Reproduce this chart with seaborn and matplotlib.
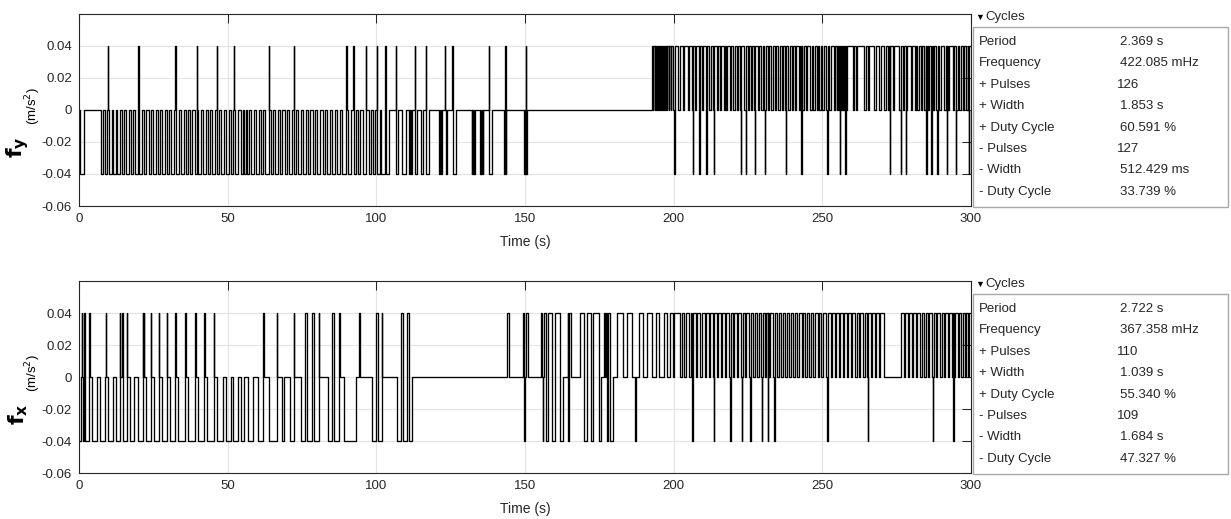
import numpy as np
import pandas as pd
import matplotlib
matplotlib.use("Agg")
import matplotlib.pyplot as plt
import seaborn as sns
from matplotlib.patches import Rectangle

sns.set_style("white")
plt.rcParams["font.family"] = ["Liberation Sans", "DejaVu Sans"]

# ----------------------------
#  Datos (tiempos en s)
# ----------------------------
T_END = 300.0
LEVEL = 0.04
SPIKE_W = 0.15

# f_y : pulsos a -0.04 (tramos), pulsos a +0.04 (tramos) y picos cortos
fy_low = [(0.4, 1.7), (7.3, 8.2), (8.9, 9.5), (10.0, 11.0), (11.6, 12.3), (12.9, 13.8),
          (14.5, 15.2), (15.9, 16.7), (17.4, 18.3), (19.0, 19.8), (20.3, 21.1), (21.8, 22.7),
          (23.4, 24.2), (24.9, 25.8), (26.5, 27.3), (28.0, 28.8), (29.5, 30.4), (31.1, 31.8),
          (32.6, 33.5), (34.3, 35.2), (35.9, 36.6), (37.4, 38.1), (38.9, 39.6), (40.1, 41.0),
          (41.8, 42.6), (43.3, 44.1), (44.8, 45.7), (46.5, 47.2), (47.9, 48.8), (49.5, 50.3),
          (51.1, 51.9), (52.6, 53.4), (54.4, 55.0), (55.6, 56.0), (56.5, 57.3), (58.0, 58.8),
          (59.5, 60.4), (61.2, 62.0), (62.7, 63.8), (64.5, 65.3), (66.0, 66.8), (67.6, 68.4),
          (69.2, 70.0), (70.6, 71.5), (72.4, 73.0), (73.8, 74.6), (75.4, 76.2), (77.0, 77.8),
          (78.7, 79.5), (80.2, 81.0), (81.9, 82.7), (83.5, 84.4), (85.2, 86.0), (86.8, 87.7),
          (88.5, 89.8), (90.6, 91.5), (92.4, 93.0), (93.8, 94.6), (95.5, 96.4), (97.4, 98.2),
          (99.0, 99.7), (100.3, 101.2), (101.5, 102.9), (103.3, 104.4), (106.7, 107.4),
          (108.8, 110.0), (111.1, 111.3), (111.5, 111.7), (111.8, 111.9), (113.1, 113.6),
          (114.9, 115.8), (116.8, 117.8), (121.2, 121.4), (121.6, 121.8), (121.9, 122.1),
          (123.3, 123.7), (125.8, 126.8), (132.1, 132.3), (132.5, 132.8), (132.9, 133.2),
          (134.9, 135.1), (135.3, 135.6), (135.8, 136.0), (138.0, 138.8), (143.1, 143.6),
          (149.7, 149.9), (150.0, 150.2), (150.4, 150.6)]
fy_high = [(192.6, 193.0), (193.2, 193.6), (193.8, 194.1), (194.3, 194.8), (195.0, 195.3),
           (195.5, 195.9), (196.1, 196.5), (196.7, 197.0), (197.3, 197.7), (197.9, 198.3),
           (198.5, 199.0), (199.2, 199.8), (200.5, 201.5), (202.0, 203.2), (203.6, 204.9),
           (205.3, 206.2), (206.6, 207.1), (207.5, 208.4), (208.8, 209.6), (210.0, 210.9),
           (211.2, 212.0), (212.4, 213.3), (213.7, 214.6), (215.0, 215.6), (215.9, 216.8),
           (217.1, 217.7), (218.0, 218.9), (219.3, 220.1), (220.5, 221.2), (221.6, 222.4),
           (222.8, 223.8), (224.2, 224.9), (225.3, 226.1), (226.5, 227.1), (227.5, 228.4),
           (228.8, 229.5), (229.9, 230.5), (230.9, 231.7), (232.1, 232.9), (233.3, 234.0),
           (234.4, 235.2), (235.6, 236.3), (236.7, 237.5), (237.9, 238.6), (239.0, 239.8),
           (240.2, 240.9), (241.3, 242.1), (242.5, 243.3), (243.7, 244.5), (245.0, 245.9),
           (246.4, 247.0), (247.4, 248.2), (248.6, 249.0), (249.4, 250.0), (250.5, 251.2),
           (251.7, 252.3), (252.8, 253.9), (254.4, 254.8), (255.1, 255.4), (255.7, 256.0),
           (256.3, 256.6), (256.9, 257.1), (257.4, 258.0),
           (258.4, 260.2), (260.6, 261.3), (261.8, 264.1), (264.6, 265.2), (265.7, 267.5),
           (268.0, 269.1), (269.6, 270.8), (271.3, 272.0), (272.4, 273.6), (274.1, 275.9),
           (276.4, 277.0), (277.5, 278.1), (278.6, 279.8), (280.3, 281.0), (281.4, 282.0),
           (282.5, 283.1), (283.6, 284.3), (284.8, 285.4), (285.9, 287.1), (287.6, 288.2),
           (288.7, 289.3), (289.8, 291.0), (291.5, 292.2), (292.7, 293.9), (294.4, 295.0),
           (295.5, 296.1), (296.6, 297.3), (297.8, 298.4), (298.9, 299.1), (299.4, 300.0)]
fy_up_spikes = [9.6, 19.9, 32.4, 39.7, 46.3, 52.0, 63.9, 72.2, 89.9, 92.2, 96.5, 100.1,
                103.0, 106.5, 112.9, 116.6, 123.1, 125.6, 137.8, 143.3, 150.3]
fy_down_spikes = [200.2, 206.4, 208.6, 211.0, 213.5, 222.6, 224.2, 227.3, 230.7, 237.7,
                  242.9, 251.6, 255.9, 257.7, 272.7, 276.3, 278.1, 285.0, 286.6, 288.6,
                  291.8, 294.8, 299.2]

# f_x
fx_low = [(0.0, 0.8), (1.2, 1.6), (2.0, 3.5), (4.4, 5.9), (7.1, 8.7), (9.9, 11.3),
          (12.3, 13.8), (14.7, 16.3), (17.3, 18.6), (20.0, 21.4), (22.4, 24.2), (25.2, 26.9),
          (27.8, 29.5), (30.6, 32.4), (33.3, 35.8), (36.8, 39.1), (40.1, 42.2), (43.0, 45.4),
          (46.3, 48.3), (49.4, 51.0), (51.9, 53.6), (54.6, 55.5), (57.0, 58.6), (60.3, 62.0),
          (64.0, 66.5), (68.2, 69.0), (71.0, 72.3), (74.7, 76.1), (76.8, 78.5), (79.1, 80.6),
          (83.9, 85.0), (85.8, 87.6), (89.1, 93.2), (98.4, 99.8), (100.7, 101.8),
          (106.9, 108.2), (109.1, 110.2), (111.1, 112.1), (149.6, 150.1), (155.9, 156.2),
          (157.0, 157.9), (159.2, 160.0), (161.8, 162.7), (169.9, 170.8), (172.3, 173.0),
          (174.9, 175.5), (177.5, 178.0), (178.7, 179.6)]
fx_high = [(76.1, 76.8), (78.5, 79.1), (85.0, 85.8), (99.8, 100.7), (108.2, 109.1),
           (110.2, 111.1), (143.8, 144.7), (149.2, 149.6), (150.2, 151.0), (155.5, 155.8),
           (156.3, 157.0), (157.9, 159.2), (160.0, 161.8), (164.4, 165.5), (168.5, 169.9),
           (170.8, 172.3), (173.0, 174.9), (176.6, 176.9), (177.1, 177.5), (178.0, 178.6),
           (181.1, 183.1), (184.4, 186.1), (188.5, 189.8), (190.9, 192.6), (193.9, 194.9),
           (196.8, 197.7), (198.6, 199.7), (200.2, 202.1), (202.8, 203.6), (204.3, 205.2),
           (205.7, 206.2), (206.5, 207.5), (208.0, 208.9), (209.5, 210.4), (210.9, 211.8),
           (212.3, 213.2), (213.6, 214.5), (215.0, 215.9), (216.4, 217.2), (217.6, 218.7),
           (219.2, 219.9), (220.3, 221.2), (221.6, 222.6), (223.2, 224.0), (224.4, 225.5),
           (226.0, 226.8), (227.2, 228.1), (228.6, 229.4), (229.9, 230.8), (231.2, 232.0),
           (232.5, 233.5), (234.0, 234.8), (235.3, 236.2), (236.7, 237.5), (238.0, 238.9),
           (239.4, 240.2), (240.7, 241.6), (242.1, 243.0), (243.5, 244.3), (244.8, 245.6),
           (246.1, 247.0), (247.5, 248.4), (248.9, 249.7), (250.2, 251.4), (252.0, 252.9),
           (253.4, 254.2), (254.7, 255.5), (256.0, 256.9), (257.4, 258.2), (258.7, 259.6),
           (260.1, 261.0), (261.5, 262.3), (262.8, 263.7), (264.2, 265.0), (265.5, 266.3),
           (266.8, 267.6), (268.1, 268.9), (269.4, 270.9), (276.5, 277.4), (277.9, 278.8),
           (279.3, 280.1), (280.6, 281.5), (282.0, 282.9), (283.4, 284.2), (284.7, 285.5),
           (286.0, 286.9), (287.4, 288.2), (288.7, 289.6), (290.1, 290.9), (291.4, 292.2),
           (292.7, 293.5), (293.9, 294.4), (294.7, 295.5), (296.0, 296.8), (297.2, 297.9),
           (298.3, 299.0), (299.4, 300.0)]
fx_up_spikes = [0.9, 1.7, 3.5, 9.0, 13.8, 14.6, 16.0, 21.4, 21.7, 24.2, 26.9, 29.5, 32.4,
                35.8, 39.1, 42.2, 45.4, 62.0, 66.5, 72.3, 80.6, 87.6, 94.3, 101.8]
fx_down_spikes = [164.6, 187.1, 206.3, 213.4, 219.0, 223.0, 225.7, 229.6, 231.6, 233.8,
                  251.7, 265.2, 287.2, 294.1]

# cuadro "Cycles" (etiquetas y valores)
cycle_labels = ["Period", "Frequency", "+ Pulses", "+ Width", "+ Duty Cycle",
                "- Pulses", "- Width", "- Duty Cycle"]
fy_cycles = ["2.369 s", "422.085 mHz", "126", "1.853 s", "60.591 %",
             "127", "512.429 ms", "33.739 %"]
fx_cycles = ["2.722 s", "367.358 mHz", "110", "1.039 s", "55.340 %",
             "109", "1.684 s", "47.327 %"]

x_ticks = [0, 50, 100, 150, 200, 250, 300]
y_ticks = [-0.06, -0.04, -0.02, 0, 0.02, 0.04]
y_ticklabels = ["-0.06", "-0.04", "-0.02", "0", "0.02", "0.04"]


def step_signal(low, high, up_spikes, down_spikes):
    """Construye la señal escalonada (tiempos de cambio y niveles)."""
    layers = [(low, -LEVEL), (high, LEVEL),
              ([(s, s + SPIKE_W) for s in up_spikes], LEVEL),
              ([(s, s + SPIKE_W) for s in down_spikes], -LEVEL)]
    edges = {0.0, T_END}
    for ivs, _ in layers:
        for a, b in ivs:
            edges.update([a, min(b, T_END)])
    edges = np.array(sorted(edges))
    mids = (edges[:-1] + edges[1:]) / 2
    vals = np.zeros_like(mids)
    for ivs, lev in layers:
        for a, b in ivs:
            vals[(mids > a) & (mids < b)] = lev
    vals = np.append(vals, vals[-1])
    return pd.DataFrame({"t": edges, "v": vals})


W, H = 1231, 519
fig = plt.figure(figsize=(W / 100, H / 100), dpi=100)
AX_COL = "#262626"


def px(x, y):
    return x / W, 1 - y / H


panels = [
    (14, 206, step_signal(fy_low, fy_high, fy_up_spikes, fy_down_spikes), "y", fy_cycles),
    (281, 473, step_signal(fx_low, fx_high, fx_up_spikes, fx_down_spikes), "x", fx_cycles),
]

for top, bottom, sig, comp, cyc in panels:
    ax = fig.add_axes([79 / W, 1 - bottom / H, (971 - 79) / W, (bottom - top) / H])
    sns.lineplot(data=sig, x="t", y="v", ax=ax, color="black", linewidth=0.95,
                 drawstyle="steps-post", estimator=None, sort=False, legend=False)
    ax.set_xlim(0, 300)
    ax.set_ylim(-0.06, 0.06)
    ax.set_xticks(x_ticks)
    ax.set_xticklabels([str(v) for v in x_ticks])
    ax.set_yticks(y_ticks)
    ax.set_yticklabels(y_ticklabels)
    ax.grid(True, color="#e3e3e3", linewidth=0.8)
    ax.set_axisbelow(True)
    ax.tick_params(direction="in", length=6.5, width=0.75, colors=AX_COL,
                   labelsize=9.5, top=True, right=True, pad=5)
    for s in ax.spines.values():
        s.set_color(AX_COL)
        s.set_linewidth(0.8)
    ax.set_xlabel("Time (s)", fontsize=10, color=AX_COL, labelpad=7)
    ax.set_ylabel("")

    # etiqueta del eje y (f en negrita + unidades)
    fig.text(*px(18, top + 133), r"$\mathbf{f}_\mathbf{%s}$" % comp, fontsize=16,
             rotation=90, ha="center", va="center", color="black")
    fig.text(*px(33, top + 92), r"(m/s$^2$)", fontsize=9.5, rotation=90,
             ha="center", va="center", color="black")

    # cuadro de mediciones "Cycles"
    fig.text(*px(975, top + 3), "▼", fontsize=6.5, ha="left", va="center", color="black")
    fig.text(*px(985, top + 3), "Cycles", fontsize=9.5, ha="left", va="center", color=AX_COL)
    x0, y0 = px(973, top + 193)
    x1, y1 = px(1228, top + 13)
    fig.patches.append(Rectangle((x0, y0), x1 - x0, y1 - y0, transform=fig.transFigure,
                                 facecolor="white", edgecolor="#a8a8a8", linewidth=1.0))
    for i, (lab, val) in enumerate(zip(cycle_labels, cyc)):
        yy = top + 28 + i * 21.4
        fig.text(*px(979, yy), lab, fontsize=9.5, ha="left", va="center", color=AX_COL)
        xv = 1117 if "Pulses" in lab else 1120
        fig.text(*px(xv, yy), val, fontsize=9.5, ha="left", va="center", color=AX_COL)

fig.savefig("out.png", dpi=100)
